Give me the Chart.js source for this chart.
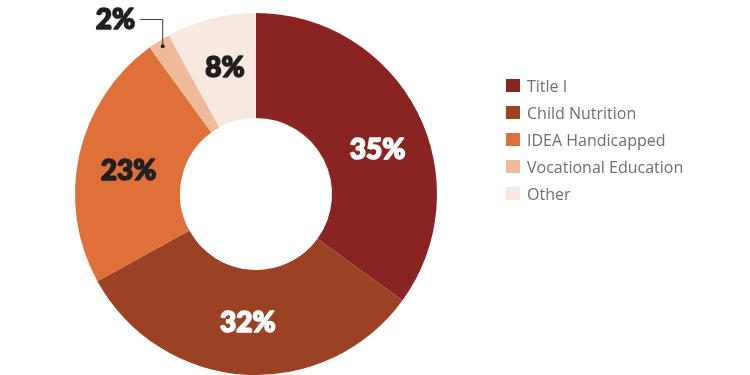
<!DOCTYPE html>
<html>
<head>
<meta charset="utf-8">
<script src="https://cdn.jsdelivr.net/npm/chart.js@4.4.1/dist/chart.umd.min.js"></script>
<style>
  html,body{margin:0;padding:0;background:#fff;}
  #wrap{position:relative;width:750px;height:375px;overflow:hidden;}
  #c{position:absolute;left:0;top:0;}
  #legend{position:absolute;left:506px;top:72px;font-family:"Open Sans",sans-serif;font-size:16px;color:#6d6e71;}
  .item{display:flex;align-items:center;height:27px;}
  .sw{width:14px;height:13px;margin-right:7px;}
</style>
</head>
<body>
<div id="wrap">
  <canvas id="c" width="750" height="375"></canvas>
  <div id="legend"></div>
</div>
<script>
const categories = ["Title I", "Child Nutrition", "IDEA Handicapped", "Vocational Education", "Other"];
const shares = [35, 32, 23, 2, 8];
const percentLabels = ["35%", "32%", "23%", "2%", "8%"];

const sliceColors = ["#8a2423", "#9b4124", "#e0703a", "#f0ba9a", "#f7e9e0"];
const labelColors = ["#ffffff", "#ffffff", "#231f20", null, "#231f20"];
// fraction along each slice's angle where the label sits (0.5 = middle)
const labelAngleFrac = [0.555, 0.5, 0.47, 0.5, 0.52];

// HTML legend
const lg = document.getElementById('legend');
categories.forEach((c, i) => {
  const d = document.createElement('div'); d.className = 'item';
  const s = document.createElement('span'); s.className = 'sw'; s.style.background = sliceColors[i];
  const t = document.createElement('span'); t.textContent = c;
  d.appendChild(s); d.appendChild(t); lg.appendChild(d);
});

function heavyText(ctx, txt, x, y, color) {
  ctx.fillStyle = color; ctx.strokeStyle = color;
  ctx.lineWidth = 1.6; ctx.lineJoin = 'round';
  ctx.strokeText(txt, x, y);
  ctx.fillText(txt, x, y);
}

const labelPlugin = {
  id: 'pctLabels',
  afterDatasetsDraw(chart) {
    const ctx = chart.ctx;
    const meta = chart.getDatasetMeta(0);
    ctx.save();
    ctx.font = '900 28px Lato, "DejaVu Sans", sans-serif';
    ctx.textBaseline = 'middle';
    meta.data.forEach((arc, i) => {
      const p = arc.getProps(['x','y','startAngle','endAngle','innerRadius','outerRadius'], true);
      if (labelColors[i] === null) {
        const a = (p.startAngle + p.endAngle) / 2;
        const r = p.outerRadius - 6;
        const dx = p.x + Math.cos(a) * r, dy = p.y + Math.sin(a) * r;
        const ly = p.y - p.outerRadius + 6;
        const lx = dx - 22;
        ctx.strokeStyle = '#3a3a3a'; ctx.lineWidth = 1;
        ctx.beginPath(); ctx.moveTo(dx + 0.5, dy); ctx.lineTo(dx + 0.5, ly + 0.5); ctx.lineTo(lx, ly + 0.5); ctx.stroke();
        ctx.fillStyle = '#231f20';
        ctx.beginPath(); ctx.arc(dx + 0.5, dy, 2, 0, Math.PI * 2); ctx.fill();
        ctx.textAlign = 'right';
        heavyText(ctx, percentLabels[i], lx - 5, ly + 1, '#231f20');
      } else {
        const a = p.startAngle + (p.endAngle - p.startAngle) * labelAngleFrac[i];
        const r = (p.innerRadius + p.outerRadius) / 2 + 1;
        ctx.textAlign = 'center';
        heavyText(ctx, percentLabels[i], p.x + Math.cos(a) * r, p.y + Math.sin(a) * r, labelColors[i]);
      }
    });
    ctx.restore();
  }
};

new Chart(document.getElementById('c'), {
  type: 'doughnut',
  data: {
    labels: categories,
    datasets: [{ data: shares, backgroundColor: sliceColors, borderWidth: 0 }]
  },
  options: {
    responsive: false,
    animation: false,
    cutout: '42%',
    layout: { padding: { top: 13, bottom: 0, left: 75, right: 313 } },
    plugins: { legend: { display: false }, tooltip: { enabled: false } }
  },
  plugins: [labelPlugin]
});
</script>
</body>
</html>
